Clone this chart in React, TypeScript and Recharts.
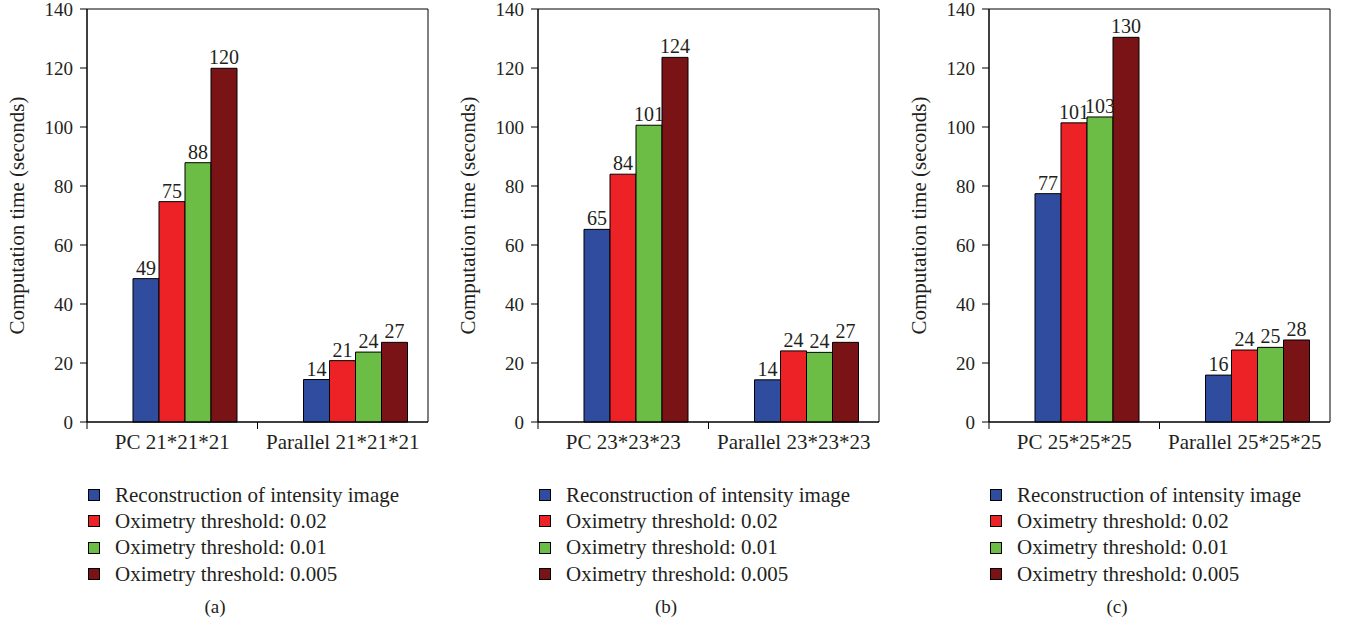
import React from "react"
import {
  BarChart,
  Bar,
  XAxis,
  YAxis,
  Legend,
  LabelList,
  ReferenceArea
} from "recharts"

// series names + colours
const SERIES = [
  "Reconstruction of intensity image",
  "Oximetry threshold: 0.02",
  "Oximetry threshold: 0.01",
  "Oximetry threshold: 0.005"
]
const COLORS = ["#2f4c9e", "#ec2227", "#6bbd46", "#7a1315"]

const Y_TICKS = [0, 20, 40, 60, 80, 100, 120, 140]

// panel (a)
const catsA = ["PC 21*21*21", "Parallel 21*21*21"]
const reconA = [48.6, 14.4]
const t002A = [74.7, 20.8]
const t001A = [87.9, 23.7]
const t0005A = [119.9, 27.0]

// panel (b)
const catsB = ["PC 23*23*23", "Parallel 23*23*23"]
const reconB = [65.3, 14.3]
const t002B = [84.0, 24.1]
const t001B = [100.6, 23.6]
const t0005B = [123.6, 27.0]

// panel (c)
const catsC = ["PC 25*25*25", "Parallel 25*25*25"]
const reconC = [77.4, 15.9]
const t002C = [101.4, 24.4]
const t001C = [103.4, 25.3]
const t0005C = [130.4, 27.8]

const TEXT = "#231f20"
const FONT = "'Liberation Serif', 'DejaVu Serif', serif"

const CategoryTick = (props: any) => {
  const { x, y, payload } = props
  const half = payload && payload.offset ? payload.offset : 85
  return (
    <g>
      <line x1={x - half} x2={x - half} y1={y} y2={y + 7} stroke="#000" />
      <text x={x} y={y + 27} textAnchor="middle" fill={TEXT} fontSize={21} fontFamily={FONT}>
        {payload.value}
      </text>
    </g>
  )
}

const renderYLabel = (props: any) => {
  const vb = props.viewBox || { y: 9, height: 413 }
  const cy = vb.y + vb.height / 2
  return (
    <text
      x={17}
      y={cy}
      transform={`rotate(-90, 17, ${cy})`}
      textAnchor="middle"
      dominantBaseline="central"
      fill={TEXT}
      fontSize={21}
      fontFamily={FONT}
    >
      Computation time (seconds)
    </text>
  )
}

const renderLegend = (props: any) => {
  const items = [...(props.payload || [])].sort(
    (a: any, b: any) => SERIES.indexOf(a.value) - SERIES.indexOf(b.value)
  )
  return (
    <div>
      {items.map((it: any, i: number) => (
        <div key={i} style={{ display: "flex", alignItems: "center", height: 26.3 }}>
          <span
            style={{
              display: "inline-block",
              width: 10,
              height: 10,
              background: it.color,
              border: "1px solid #000",
              marginRight: 15
            }}
          />
          <span style={{ fontSize: 21, color: TEXT, fontFamily: FONT, whiteSpace: "nowrap" }}>
            {it.value}
          </span>
        </div>
      ))}
    </div>
  )
}

function Panel({ cats, recon, t002, t001, t0005, caption }: any) {
  const data = cats.map((name: string, i: number) => ({
    name,
    s0: recon[i],
    s1: t002[i],
    s2: t001[i],
    s3: t0005[i]
  }))

  return (
    <div style={{ position: "relative", width: 445, height: 632 }}>
      <BarChart
        width={445}
        height={632}
        data={data}
        margin={{ top: 9, right: 17, left: 0, bottom: 170 }}
        barGap={0}
        barSize={26}
      >
        <XAxis xAxisId="bars" dataKey="name" hide height={0} padding={{ left: 13, right: -13 }} />
        <XAxis
          xAxisId="lab"
          dataKey="name"
          height={40}
          tickLine={false}
          tickSize={0}
          tickMargin={0}
          axisLine={{ stroke: "#000" }}
          tick={<CategoryTick />}
        />
        <YAxis
          width={87}
          domain={[0, 140]}
          ticks={Y_TICKS}
          interval={0}
          tickSize={7}
          tickMargin={7}
          tickLine={{ stroke: "#000" }}
          axisLine={{ stroke: "#000" }}
          tick={{ fill: TEXT, fontSize: 19, fontFamily: FONT }}
          label={renderYLabel}
        />
        {/* frame round the plot area */}
        <ReferenceArea
          xAxisId="lab"
          y1={0}
          y2={140}
          fill="none"
          stroke="#000"
          strokeWidth={1}
          strokeOpacity={1}
          ifOverflow="visible"
        />
        <Legend
          layout="horizontal"
          align="center"
          verticalAlign="middle"
          wrapperStyle={{ top: 482, left: 88, width: "auto", height: "auto" }}
          content={renderLegend}
        />
        {["s0", "s1", "s2", "s3"].map((k, i) => (
          <Bar
            key={k}
            xAxisId="bars"
            dataKey={k}
            name={SERIES[i]}
            fill={COLORS[i]}
            stroke="#000"
            strokeWidth={1}
            isAnimationActive={false}
          >
            <LabelList
              dataKey={k}
              position="top"
              offset={4}
              fill={TEXT}
              fontSize={20}
              fontFamily={FONT}
              formatter={(v: any) => Math.round(Number(v))}
            />
          </Bar>
        ))}
      </BarChart>
      <div
        style={{
          position: "absolute",
          left: 0,
          width: 430,
          top: 596,
          textAlign: "center",
          fontSize: 19,
          color: TEXT
        }}
      >
        {caption}
      </div>
    </div>
  )
}

export default function App() {
  return (
    <div
      style={{
        position: "absolute",
        left: 0,
        top: 0,
        width: 1347,
        height: 632,
        background: "#fff",
        fontFamily: FONT
      }}
    >
      <div style={{ position: "absolute", left: 0, top: 0 }}>
        <Panel cats={catsA} recon={reconA} t002={t002A} t001={t001A} t0005={t0005A} caption="(a)" />
      </div>
      <div style={{ position: "absolute", left: 451, top: 0 }}>
        <Panel cats={catsB} recon={reconB} t002={t002B} t001={t001B} t0005={t0005B} caption="(b)" />
      </div>
      <div style={{ position: "absolute", left: 902, top: 0 }}>
        <Panel cats={catsC} recon={reconC} t002={t002C} t001={t001C} t0005={t0005C} caption="(c)" />
      </div>
    </div>
  )
}
